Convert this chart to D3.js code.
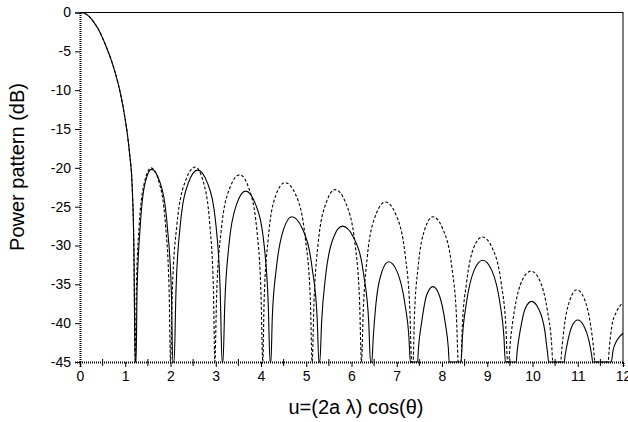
<!DOCTYPE html>
<html>
<head>
<meta charset="utf-8">
<script src="https://cdn.jsdelivr.net/npm/d3@7"></script>
<style>
    body { margin: 0; background: #fff; }
    svg text { font-family: "Liberation Sans", Arial, sans-serif; fill: #000; }
</style>
</head>
<body>
<svg id="chart" width="628" height="422"></svg>
<script>
// main beam, both traces share it  [u, dB]
let mainLobe = [
    [0, 0], [0.1, -0.1], [0.2, -0.5], [0.3, -1.2], [0.4, -2.1], [0.5, -3.3],
    [0.6, -4.7], [0.7, -6.3], [0.8, -8.2], [0.9, -10.6], [1.0, -13.8],
    [1.05, -15.8], [1.1, -18.4], [1.15, -22], [1.19, -30], [1.22, -45]
];

// side lobes of the lower (solid) trace
let solidLobes = [
    [1.24, -45], [1.26, -36.1], [1.33, -27.6], [1.44, -21.9], [1.58, -20.2], [1.77, -21.9], [1.93, -27.6], [2.02, -36.1], [2.05, -45],
    [2.08, -45], [2.12, -36.1], [2.21, -27.7], [2.39, -22.0], [2.60, -20.3], [2.82, -22.0], [3.01, -27.7], [3.10, -36.1], [3.14, -45],
    [3.16, -45], [3.20, -37.5], [3.29, -30.0], [3.46, -24.7], [3.66, -23.0], [3.88, -24.7], [4.07, -30.0], [4.16, -37.5], [4.20, -45],
    [4.22, -45], [4.25, -39.2], [4.34, -32.9], [4.50, -27.9], [4.68, -26.3], [4.92, -27.9], [5.13, -32.9], [5.24, -39.2], [5.28, -45],
    [5.30, -45], [5.34, -39.8], [5.43, -33.8], [5.60, -29.0], [5.80, -27.5], [6.05, -29.0], [6.27, -33.8], [6.38, -39.8], [6.42, -45],
    [6.45, -45], [6.48, -41.9], [6.54, -37.5], [6.67, -33.4], [6.82, -32.1], [7.01, -33.4], [7.18, -37.5], [7.27, -41.9], [7.30, -45],
    [7.46, -45], [7.48, -43.2], [7.55, -39.9], [7.66, -36.4], [7.80, -35.3], [7.94, -36.4], [8.07, -39.9], [8.14, -43.2], [8.16, -45],
    [8.42, -45], [8.45, -41.9], [8.54, -37.4], [8.71, -33.2], [8.90, -31.9], [9.10, -33.2], [9.28, -37.4], [9.37, -41.9], [9.40, -45],
    [9.64, -45], [9.66, -43.7], [9.73, -40.9], [9.84, -38.1], [9.98, -37.2], [10.13, -38.1], [10.27, -40.9], [10.33, -43.7], [10.36, -45],
    [10.70, -45], [10.72, -44.2], [10.78, -42.3], [10.88, -40.3], [11.00, -39.6], [11.13, -40.3], [11.25, -42.3], [11.31, -44.2], [11.33, -45],
    [11.74, -45], [11.78, -43.5], [11.85, -42.4], [11.93, -41.7], [12.0, -41.3]
];

// side lobes of the upper (dashed) trace
let dashedLobes = [
    [1.245, -36.0], [1.307, -27.5], [1.43, -21.75], [1.57, -20.0], [1.742, -21.75], [1.892, -27.5], [1.97, -36.0], [2.00, -45],
    [2.04, -36.0], [2.14, -27.4], [2.33, -21.7], [2.55, -19.9], [2.72, -21.7], [2.87, -27.4], [2.95, -36.0], [2.98, -45],
    [3.02, -36.3], [3.12, -28.1], [3.31, -22.6], [3.53, -20.9], [3.73, -22.6], [3.91, -28.1], [4.00, -36.3], [4.04, -45],
    [4.07, -36.9], [4.16, -29.1], [4.33, -23.5], [4.53, -21.9], [4.77, -23.5], [4.98, -29.1], [5.09, -36.9], [5.13, -45],
    [5.17, -37.5], [5.26, -29.9], [5.44, -24.5], [5.64, -22.8], [5.87, -24.5], [6.08, -29.9], [6.18, -37.5], [6.22, -45],
    [6.26, -38.4], [6.35, -31.4], [6.54, -26.0], [6.75, -24.4], [6.98, -26.0], [7.19, -31.4], [7.29, -38.4], [7.33, -45],
    [7.36, -45], [7.39, -39.2], [7.47, -32.9], [7.62, -27.9], [7.80, -26.3], [8.02, -27.9], [8.22, -32.9], [8.32, -39.2], [8.36, -45],
    [8.42, -45], [8.45, -40.3], [8.54, -34.9], [8.70, -30.3], [8.89, -28.9], [9.11, -30.3], [9.31, -34.9], [9.41, -40.3], [9.45, -45],
    [9.47, -45], [9.51, -42.4], [9.60, -38.4], [9.77, -34.5], [9.97, -33.3], [10.16, -34.5], [10.33, -38.4], [10.42, -42.4], [10.45, -45],
    [10.62, -45], [10.65, -43.2], [10.71, -40.1], [10.84, -36.8], [10.98, -35.7], [11.14, -36.8], [11.28, -40.1], [11.35, -43.2], [11.38, -45],
    [11.67, -45], [11.70, -43], [11.75, -40.5], [11.85, -38.6], [11.93, -37.8], [12.0, -37.4]
];

let xTicks = [0, 1, 2, 3, 4, 5, 6, 7, 8, 9, 10, 11, 12];
let xMinorTicks = [0.5, 1.5, 2.5, 3.5, 4.5, 5.5, 6.5, 7.5, 8.5, 9.5, 10.5, 11.5];
let yTicks = [0, -5, -10, -15, -20, -25, -30, -35, -40, -45];

let xTitle = "u=(2a \u03bb) cos(\u03b8)";
let yTitle = "Power pattern (dB)";


let svg = d3.select("#chart");
let margin = {left: 80, right: 5, top: 12.5, bottom: 60};
let w = 628 - margin.left - margin.right;
let h = 422 - margin.top - margin.bottom;

let x = d3.scaleLinear().domain([0, 12]).range([0, w]);
let y = d3.scaleLinear().domain([-45, 0]).range([h, 0]);

let g = svg.append("g")
    .attr("transform", "translate(" + margin.left + "," + margin.top + ")");

let line = d3.line()
    .x(d => x(d[0]))
    .y(d => y(Math.max(d[1], -45)))
    .curve(d3.curveMonotoneX);

// traces
g.append("path")
    .datum(mainLobe.concat(dashedLobes))
    .attr("fill", "none")
    .attr("stroke", "#000")
    .attr("stroke-width", 1.1)
    .attr("stroke-dasharray", "3,2")
    .attr("d", line);

g.append("path")
    .datum(mainLobe.concat(solidLobes))
    .attr("fill", "none")
    .attr("stroke", "#000")
    .attr("stroke-width", 1.1)
    .attr("d", line);

// frame
g.append("line")
    .attr("x1", 0).attr("x2", w).attr("y1", 0).attr("y2", 0)
    .attr("stroke", "#000").attr("stroke-width", 1);
g.append("line")
    .attr("x1", w).attr("x2", w).attr("y1", 0).attr("y2", h)
    .attr("stroke", "#000").attr("stroke-width", 2).attr("stroke-dasharray", "1,1");

// axes
let xAxis = g.append("g")
    .attr("transform", "translate(0," + h + ")")
    .call(d3.axisBottom(x).tickValues(xTicks).tickFormat(d => String(d)).tickSize(5).tickPadding(4));

g.append("g")
    .attr("transform", "translate(0," + h + ")")
    .selectAll("line")
    .data(xMinorTicks)
    .enter().append("line")
    .attr("x1", d => x(d)).attr("x2", d => x(d))
    .attr("y1", -3).attr("y2", 4)
    .attr("stroke", "#000");

let yAxis = g.append("g")
    .call(d3.axisLeft(y).tickValues(yTicks).tickFormat(d => String(d)).tickSize(5).tickPadding(4));

for (let ax of [xAxis, yAxis]) {
    ax.select(".domain")
        .attr("stroke", "#000")
        .attr("stroke-width", 2)
        .attr("stroke-dasharray", "1,1");
    ax.selectAll(".tick line").attr("stroke", "#000");
    ax.selectAll(".tick text")
        .style("font-size", "14px")
        .attr("fill", "#000");
}

// titles
svg.append("text")
    .attr("x", 356)
    .attr("y", 414)
    .attr("text-anchor", "middle")
    .style("font-size", "20px")
    .text(xTitle);

svg.append("text")
    .attr("transform", "translate(24,167) rotate(-90)")
    .attr("text-anchor", "middle")
    .style("font-size", "20px")
    .text(yTitle);
</script>
</body>
</html>
